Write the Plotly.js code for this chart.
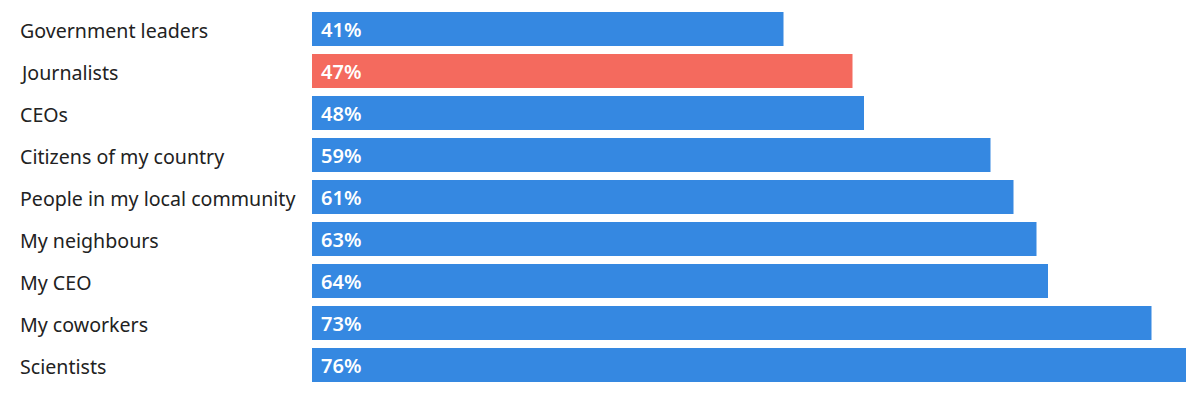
<!DOCTYPE html>
<html><head><meta charset="utf-8">
<script src="https://cdn.plot.ly/plotly-3.0.1.min.js"></script>
<style>html,body{margin:0;padding:0;background:#fff}#chart{width:1200px;height:404px}</style>
</head><body><div id="chart"></div>
<script>
const categories = ["Government leaders","Journalists","CEOs","Citizens of my country","People in my local community","My neighbours","My CEO","My coworkers","Scientists"];
const values = [41,47,48,59,61,63,64,73,76];
const highlight = "Journalists";

const BLUE = "#3588e1", RED = "#f46a5e";
const colors = categories.map(c => c === highlight ? RED : BLUE);

const trace = {
  type: "bar", orientation: "h",
  x: values, y: categories,
  marker: {color: colors},
  hoverinfo: "none"
};

const annotations = [];
categories.forEach((c, i) => {
  annotations.push({x: 0, y: c, xref: "x", yref: "y", text: values[i] + "%", showarrow: false,
    xanchor: "left", xshift: 7, yshift: 0,
    font: {family: "Noto Sans, sans-serif", size: 20, color: "#ffffff", weight: 600}});
  annotations.push({x: -0.3364, y: c, xref: "paper", yref: "y", text: c, showarrow: false,
    xanchor: "left", yshift: -1.5,
    font: {family: "Noto Sans, sans-serif", size: 19.6, color: "#222222"}});
});

const layout = {
  width: 1200, height: 404,
  margin: {l: 312, r: 14, t: 8, b: 18, pad: 0},
  paper_bgcolor: "#ffffff", plot_bgcolor: "#ffffff",
  bargap: 0.19,
  showlegend: false,
  xaxis: {range: [0, 76], visible: false, fixedrange: true},
  yaxis: {autorange: "reversed", showticklabels: false, showgrid: false, zeroline: false, showline: false, ticks: ""},
  annotations: annotations
};

Plotly.newPlot("chart", [trace], layout, {displayModeBar: false, staticPlot: true});
</script></body></html>
